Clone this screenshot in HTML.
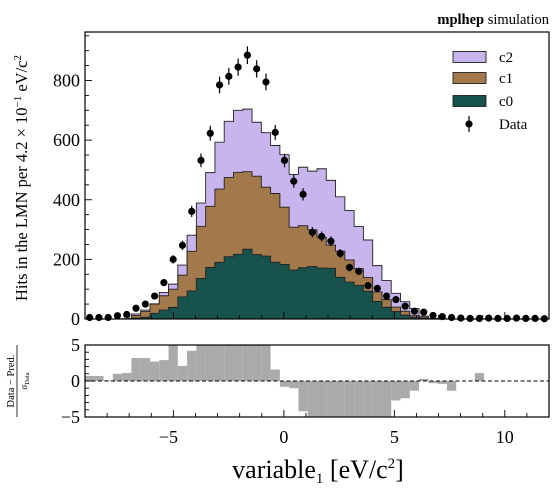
<!DOCTYPE html>
<html><head><meta charset="utf-8"><style>
html,body{margin:0;padding:0;background:#fff;}
svg{display:block;font-family:"Liberation Serif","DejaVu Serif",serif;}
</style></head><body>
<svg id="chart" width="560" height="495" viewBox="0 0 560 495" xmlns="http://www.w3.org/2000/svg">
<g id="main"></g>
<g id="ratio"></g>
<text x="549" y="24" text-anchor="end" font-size="14.5"><tspan font-weight="bold">mplhep</tspan> simulation</text>
<text transform="translate(27,178) rotate(-90)" text-anchor="middle" font-size="16.5">Hits in the LMN per 4.2 × 10<tspan dy="-6" font-size="11">−1</tspan><tspan dy="6"> eV/c</tspan><tspan dy="-6" font-size="11">2</tspan></text>
<g transform="translate(16,381) rotate(-90)" font-size="10.5" text-anchor="middle">
<text y="-2">Data − Pred.</text>
<line x1="-36" x2="36" y1="1" y2="1" stroke="#000" stroke-width="0.8"/>
<text y="11" font-size="9">σ<tspan font-size="6.5" dy="2">Data</tspan></text>
</g>
<text x="318" y="478" text-anchor="middle" font-size="26">variable<tspan font-size="15" dy="5">1</tspan><tspan dy="-5"> [eV/c</tspan><tspan font-size="15" dy="-10">2</tspan><tspan dy="10">]</tspan></text>
<g id="legend"></g>
</svg>
<script>
const binLow = -9;
const binWidth = 0.42;
const c0 = [0,0,0,0,0,3,6,19,30,39,74,94,136,173,190,209,217,234,216,211,190,183,164,172,176,171,170,140,124,113,93,59,39,25,13,6,2,0,0,0,0,0,0,0,0,0,0,0,0,0];
const c1 = [0,0,0,0,0,9,19,31,48,61,73,133,175,205,246,266,275,260,263,231,231,192,144,141,123,103,78,88,74,56,46,32,26,15,13,5,4,1,0,0,0,0,0,0,0,0,0,0,0,0];
const c2 = [0,0,0,0,1,5,5,1,11,17,34,54,78,113,157,188,208,210,181,183,161,176,177,196,197,230,217,182,166,141,126,88,64,46,32,24,4,1,1,0,0,0,0,0,0,0,0,0,0,0];
const dataVals = [5,5,5,11,15,36,50,77,122,200,247,361,532,623,785,814,845,885,839,795,626,532,462,418,291,277,261,220,173,160,112,103,77,65,43,26,23,12,8,5,3,2,2,3,2,2,3,2,2,1];
const pulls = [0.7,0.7,0.1,1.0,1.1,3.2,3.2,2.7,2.9,5,2.1,4.2,5,5,5,5,5,5,5,5,1.6,-0.8,-1.0,-4.2,-5,-5,-5,-5,-5,-5,-5,-5,-5,-2.7,-2.4,-1.35,0.3,-0.3,-0.4,-1.35,0,0,1.1,0,0,0,0,0,0,0];
const yTicks = [0,200,400,600,800];
const xTicks = [-5,0,5,10];
const rTicks = [-5,0,5];

const NS = "http://www.w3.org/2000/svg";
const L = 85, R = 549, T = 32, B = 319, RT = 345, RB = 417;
const X0 = -9, X1 = 12, YMAX = (B - T) / ((B - 80.5) / 800);
const xs = v => L + (v - X0) / (X1 - X0) * (R - L);
const ys = v => B - v / YMAX * (B - T);
const rs = v => (RT + RB) / 2 - v / 5 * (RB - RT) / 2;
function el(tag, attrs, parent) {
  const e = document.createElementNS(NS, tag);
  for (const k in attrs) e.setAttribute(k, attrs[k]);
  parent.appendChild(e);
  return e;
}
const main = document.getElementById('main');
const ratio = document.getElementById('ratio');
el('rect', {x: L, y: T, width: R - L, height: B - T, fill: '#fff'}, main);

function stepPath(vals) {
  let d = 'M' + xs(binLow) + ',' + ys(0);
  vals.forEach((v, i) => {
    const a = xs(binLow + i * binWidth), b = xs(binLow + (i + 1) * binWidth);
    d += 'L' + a + ',' + ys(v) + 'L' + b + ',' + ys(v);
  });
  d += 'L' + xs(binLow + vals.length * binWidth) + ',' + ys(0) + 'Z';
  return d;
}
const s0 = c0.slice();
const s1 = c0.map((v, i) => v + c1[i]);
const s2 = s1.map((v, i) => v + c2[i]);
const layers = [[s2, '#c8b5ee', 'hist-c2'], [s1, '#a3794c', 'hist-c1'], [s0, '#17534c', 'hist-c0']];
layers.forEach(([vals, col, name]) => {
  const p = el('path', {d: stepPath(vals), fill: col, stroke: '#222', 'stroke-width': 0.9}, main);
  
  
});
dataVals.forEach((v, i) => {
  const cx = xs(binLow + (i + 0.5) * binWidth);
  const err = Math.sqrt(v);
  const g = el('g', {}, main);
  
  
  el('line', {x1: cx, x2: cx, y1: ys(v + err), y2: ys(Math.max(v - err, 0)), stroke: '#000', 'stroke-width': 1.2}, g);
  el('circle', {cx: cx, cy: ys(v), r: 3.6, fill: '#000'}, g);
});
const mf = el('rect', {x: L, y: T, width: R - L, height: B - T, fill: 'none', stroke: '#000', 'stroke-width': 1.2}, main);


for (let v = 0; v <= 950; v += 50) {
  const maj = v % 200 === 0;
  el('line', {x1: L, x2: L + (maj ? 7 : 4), y1: ys(v), y2: ys(v), stroke: '#000', 'stroke-width': 0.9}, main);
}
yTicks.forEach(v => {
  const t = el('text', {x: L - 5, y: ys(v) + 6, 'text-anchor': 'end', 'font-size': 18}, main);
  t.textContent = v;
  
  
});
for (let v = -9; v <= 12; v++) {
  const maj = v % 5 === 0;
  el('line', {x1: xs(v), x2: xs(v), y1: B, y2: B - (maj ? 7 : 4), stroke: '#000', 'stroke-width': 0.9}, main);
  el('line', {x1: xs(v), x2: xs(v), y1: RB, y2: RB - (maj ? 7 : 4), stroke: '#000', 'stroke-width': 0.9}, ratio);
}
pulls.forEach((p, i) => {
  if (p === 0) return;
  const a = xs(binLow + i * binWidth), b = xs(binLow + (i + 1) * binWidth);
  const y0 = rs(0), y1 = rs(Math.max(-5, Math.min(5, p)));
  const r = el('rect', {x: a, width: b - a, y: Math.min(y0, y1), height: Math.abs(y1 - y0), fill: '#aaaaaa'}, ratio);
  
  
});
const zl = el('line', {x1: L, x2: R, y1: rs(0), y2: rs(0), stroke: '#000', 'stroke-width': 1, 'stroke-dasharray': '4,2.5'}, ratio);


const rf = el('rect', {x: L, y: RT, width: R - L, height: RB - RT, fill: 'none', stroke: '#000', 'stroke-width': 1.2}, ratio);


for (let v = -5; v <= 5; v++) {
  const maj = v % 5 === 0;
  el('line', {x1: L, x2: L + (maj ? 7 : 4), y1: rs(v), y2: rs(v), stroke: '#000', 'stroke-width': 0.9}, ratio);
}
rTicks.forEach(v => {
  const t = el('text', {x: L - 5, y: rs(v) + 6, 'text-anchor': 'end', 'font-size': 18}, ratio);
  t.textContent = v < 0 ? '−' + Math.abs(v) : v;
  
  
});
xTicks.forEach(v => {
  const t = el('text', {x: xs(v) - (v < 0 ? 5 : 0), y: 443, 'text-anchor': 'middle', 'font-size': 18}, ratio);
  t.textContent = v < 0 ? '−' + Math.abs(v) : v;
  
  
});
const lg = document.getElementById('legend');
[['c2', '#c8b5ee', 57], ['c1', '#a3794c', 78], ['c0', '#17534c', 101]].forEach(([lab, col, y]) => {
  const g = el('g', {}, lg);
  
  
  el('rect', {x: 453, y: y - 5.5, width: 33, height: 11, fill: col, stroke: '#222', 'stroke-width': 0.9}, g);
  const t = el('text', {x: 499, y: y + 5, 'font-size': 15}, g);
  t.textContent = lab;
});
const gd = el('g', {}, lg);


el('line', {x1: 469, x2: 469, y1: 116, y2: 132, stroke: '#000', 'stroke-width': 1.2}, gd);
el('circle', {cx: 469, cy: 124, r: 3.6, fill: '#000'}, gd);
const dt = el('text', {x: 499, y: 129, 'font-size': 15}, gd);
dt.textContent = 'Data';
</script>
</body></html>
